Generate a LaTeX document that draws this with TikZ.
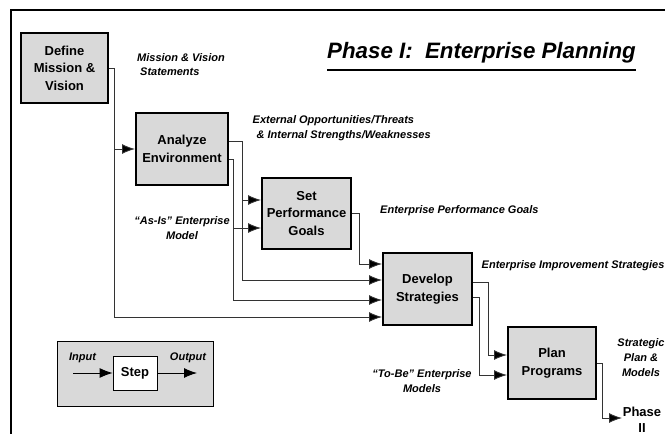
\documentclass[tikz,border=0pt]{standalone}
\usepackage{fontspec}
\setmainfont{Liberation Sans}
\usetikzlibrary{arrows.meta}
\definecolor{boxgray}{HTML}{D9D9D9}
\definecolor{linegray}{HTML}{333333}
\tikzset{
  stepbox/.style={draw=black, line width=2pt, fill=boxgray, minimum width=89pt, minimum height=72pt,
    inner sep=1pt, align=center, font=\bfseries\fontsize{13}{17.5}\selectfont},
  lbl/.style={font=\bfseries\itshape\fontsize{11}{15}\selectfont, inner sep=0pt},
  conn/.style={draw=linegray, line width=0.9pt},
  arr/.style={conn, -{Latex[length=13pt,width=10pt,fill=black]}},
}
\begin{document}
\begin{tikzpicture}[x=1pt,y=-1pt]
\clip (0,0) rectangle (665,434);
\fill[white] (0,0) rectangle (665,434);
% frame
\draw[line width=1.3pt] (665,10) -- (11,10) -- (11,434);
% title
\node[font=\bfseries\itshape\fontsize{22.3}{26}\selectfont, inner sep=0pt] (title) at (481.5,53) {Phase I:\ \ Enterprise Planning};
\coordinate (ul) at (0,70);
\draw[line width=2.6pt] (title.west |- ul) -- (title.east |- ul);
% boxes
\node[stepbox, minimum width=87pt, minimum height=70pt] (def) at (64.5,68) {Define\\Mission \&\\Vision};
\node[stepbox, minimum width=92pt] (ana) at (182,149) {Analyze\\Environment};
\node[stepbox, minimum height=71pt] (set) at (306.5,213.5) {Set\\Performance\\Goals};
\node[stepbox] (dev) at (427.5,289) {Develop\\Strategies};
\node[stepbox, minimum width=88pt] (plan) at (552,363) {Plan\\Programs};
% ports
\coordinate (a1) at ([yshift=8pt]ana.east);
\coordinate (a2) at ([yshift=-10pt]ana.east);
\coordinate (s1) at ([yshift=13.5pt]set.west);
\coordinate (s2) at ([yshift=-14.5pt]set.west);
\coordinate (d1) at ([yshift=25pt]dev.west);
\coordinate (d2) at ([yshift=9pt]dev.west);
\coordinate (d3) at ([yshift=-11pt]dev.west);
\coordinate (d4) at ([yshift=-28pt]dev.west);
\coordinate (e1) at ([yshift=7pt]dev.east);
\coordinate (e2) at ([yshift=-8pt]dev.east);
\coordinate (p1) at ([yshift=8pt]plan.west);
\coordinate (p2) at ([yshift=-12pt]plan.west);
\coordinate (ph) at (622,418);
% trunks
\coordinate (t1) at (114,0);
\coordinate (t2) at (242,0);
\coordinate (t3) at (233,0);
\coordinate (t4) at (359,0);
\coordinate (t5) at (488,0);
\coordinate (t6) at (479,0);
\coordinate (t7) at (602,0);
% connectors
\draw[arr] (def.east) -| (t1 |- d4) -- (d4);
\draw[arr] (t1 |- ana.west) -- (ana.west);
\draw[arr] (a1) -| (t2 |- d2) -- (d2);
\draw[arr] (t2 |- s1) -- (s1);
\draw[arr] (a2) -| (t3 |- d3) -- (d3);
\draw[arr] (t3 |- s2) -- (s2);
\draw[arr] (set.east) -| (t4 |- d1) -- (d1);
\draw[arr] (e1) -| (t5 |- p1) -- (p1);
\draw[arr] (e2) -| (t6 |- p2) -- (p2);
\draw[arr] (plan.east) -| (t7 |- ph) -- (ph);
% labels
\node[lbl, anchor=west, align=left] (lmv) at (137,64.5) {Mission \& Vision\\[-0.5pt]\hspace{3pt}Statements};
\node[lbl, anchor=west, align=left] (lext) at (252.5,128.5) {External Opportunities/Threats\\\hspace{4pt}\& Internal Strengths/Weaknesses};
\node[lbl, anchor=west] (lepg) at (380,211) {Enterprise Performance Goals};
\node[lbl, anchor=west] (leis) at (481.5,266) {Enterprise Improvement Strategies};
\node[lbl, align=center] (lasis) at (182,228.5) {“As-Is” Enterprise\\Model};
\node[lbl, align=center] (ltobe) at (422,381.5) {“To-Be” Enterprise\\Models};
\node[lbl, align=center] (lspm) at (641,357.5) {Strategic\\Plan \&\\Models};
\node[font=\bfseries\fontsize{13}{16}\selectfont, inner sep=0pt, align=center] (phase) at (642,420) {Phase\\II};
% legend
\node[draw=black, line width=0.8pt, fill=boxgray, minimum width=156pt, minimum height=65pt] (legend) at (135,373.5) {};
\node[draw=black, line width=0.8pt, fill=white, minimum width=44pt, minimum height=34pt, font=\bfseries\fontsize{13}{16}\selectfont] (stp) at (135,373) {Step};
\coordinate (lin) at (73,373);
\coordinate (lout) at (197,373);
\draw[arr, draw=black] (lin) -- (stp.west);
\draw[arr, draw=black] (stp.east) -- (lout);
\node[lbl] (linp) at (82.5,358) {Input};
\node[lbl] (loutp) at (188,358) {Output};
\end{tikzpicture}
\end{document}
